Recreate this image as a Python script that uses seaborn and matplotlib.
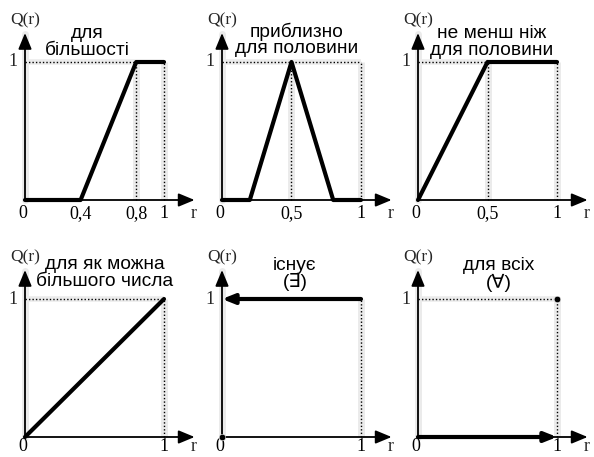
import matplotlib
matplotlib.use("Agg")
import matplotlib.pyplot as plt
import pandas as pd
import seaborn as sns

# Linguistic quantifiers Q(r): breakpoints of each curve
most_r = [0, 0.4, 0.8, 1]
most_q = [0, 0, 1, 1]
half_r = [0, 0.2, 0.5, 0.8, 1]
half_q = [0, 0, 1, 0, 0]
atleast_r = [0, 0.5, 1]
atleast_q = [0, 1, 1]
many_r = [0, 1]
many_q = [0, 1]
exists_r = [1, 0]
exists_q = [1, 1]
all_r = [0, 1]
all_q = [0, 0]

titles = ["для\nбільшості", "приблизно\nдля половини", "не менш ніж\nдля половини",
          "для як можна\nбільшого числа", "існує\n(∃)", "для всіх\n(∀)"]
xticks = [[0, 0.4, 0.8, 1], [0, 0.5, 1], [0, 0.5, 1], [0, 1], [0, 1], [0, 1]]
xticklabels = [["0", "0,4", "0,8", "1"], ["0", "0,5", "1"], ["0", "0,5", "1"],
               ["0", "1"], ["0", "1"], ["0", "1"]]
guides_v = [[0.8, 1], [0.5, 1], [0.5, 1], [1], [1], [1]]
guides_h = [0.8, 1, 0.5, 1, None, 1]

sns.set_theme(style="white")
plt.rcParams["font.family"] = ["Liberation Sans", "DejaVu Sans"]

W, H, DPI = 594, 457, 100
fig = plt.figure(figsize=(W / DPI, H / DPI), dpi=DPI)
fig.patch.set_facecolor("white")

# panel origin in pixels (x, y from top) and scale in px per unit
origins = [(25, 200), (222, 200), (418, 200), (25, 437), (222, 437), (418, 437)]
SX, SY = 139, 138
X0, X1, Y0, Y1 = -0.2, 1.3, -0.3, 1.45
title_pos = [(0.45, 1.145), (0.54, 1.16), (0.53, 1.145), (0.575, 1.19), (0.525, 1.18), (0.58, 1.18)]
label_base = [-0.13, -0.13, -0.13, -0.10, -0.10, -0.10]

serif = "Liberation Serif"
band = "#ebebeb"


def make_axes(ox, oy):
    left = (ox + X0 * SX) / W
    bottom = (H - oy + Y0 * SY) / H
    ax = fig.add_axes([left, bottom, (X1 - X0) * SX / W, (Y1 - Y0) * SY / H])
    ax.set_xlim(X0, X1)
    ax.set_ylim(Y0, Y1)
    ax.axis("off")
    ax.patch.set_alpha(0)
    return ax


curves = [(most_r, most_q), (half_r, half_q), (atleast_r, atleast_q),
          (many_r, many_q), None, None]

for i, (ox, oy) in enumerate(origins):
    ax = make_axes(ox, oy)

    # dotted guide lines with their light band
    for xv in guides_v[i]:
        ax.plot([xv, xv], [0, 1], color=band, lw=5, solid_capstyle="butt", zorder=1)
        ax.plot([xv, xv], [0, 1], color="black", lw=1, ls=(0, (1, 1.5)), zorder=2)
    if guides_h[i] is not None:
        ax.plot([0, guides_h[i]], [1, 1], color=band, lw=4, solid_capstyle="butt", zorder=1)
        ax.plot([0, guides_h[i]], [1, 1], color="black", lw=1, ls=(0, (1, 1.5)), zorder=2)
    ax.plot([0, 0], [0, 1.2], color=band, lw=5, zorder=1)

    # coordinate axes with arrows
    head = "-|>,head_length=0.65,head_width=0.27"
    ax.annotate("", xy=(1.22, 0), xytext=(0, 0),
                arrowprops=dict(arrowstyle=head, lw=1.3, color="black",
                                mutation_scale=15, shrinkA=0, shrinkB=0), zorder=3)
    ax.annotate("", xy=(0, 1.21), xytext=(0, 0),
                arrowprops=dict(arrowstyle=head, lw=1.3, color="black",
                                mutation_scale=15, shrinkA=0, shrinkB=0), zorder=3)

    # quantifier curve
    if curves[i] is not None:
        r, q = curves[i]
        df = pd.DataFrame({"r": r, "Q": q})
        sns.lineplot(data=df, x="r", y="Q", ax=ax, color="black", lw=3,
                     sort=False, estimator=None, zorder=4)
    elif i == 4:
        ax.annotate("", xy=(exists_r[1], exists_q[1]), xytext=(exists_r[0], exists_q[0]),
                    arrowprops=dict(arrowstyle="-|>,head_length=0.6,head_width=0.24",
                                    lw=3, color="black", mutation_scale=12,
                                    shrinkA=0, shrinkB=0), zorder=4)
        sns.scatterplot(x=[0], y=[0], ax=ax, color="black", s=22, zorder=5)
    else:
        ax.annotate("", xy=(all_r[1], all_q[1]), xytext=(all_r[0], all_q[0]),
                    arrowprops=dict(arrowstyle="-|>,head_length=0.6,head_width=0.24",
                                    lw=3, color="black", mutation_scale=12,
                                    shrinkA=0, shrinkB=0), zorder=4)
        sns.scatterplot(x=[1], y=[1], ax=ax, color="black", s=22, zorder=5)
    ax.set_xlabel("")
    ax.set_ylabel("")
    ax.axis("off")
    ax.set_xlim(X0, X1)
    ax.set_ylim(Y0, Y1)

    # axis texts
    yb = label_base[i]
    for xv, lab in zip(xticks[i], xticklabels[i]):
        xx = xv - 0.015 if xv == 0 else xv
        ax.text(xx, yb, lab, family=serif, fontsize=13, ha="center", va="baseline",
                color="black")
    ax.text(1.21, yb, "r", family=serif, fontsize=13, ha="center", va="baseline")
    ax.text(-0.09, 1.0, "1", family=serif, fontsize=13, ha="center", va="center")
    ax.text(0.0, 1.30, "Q(r)", family=serif, fontsize=12.5, ha="center", va="center")

    tx, ty = title_pos[i]
    ax.text(tx, ty, titles[i], fontsize=13.8, ha="center", va="center",
            linespacing=0.97, color="black")

fig.savefig("out.png", dpi=DPI, facecolor="white")
